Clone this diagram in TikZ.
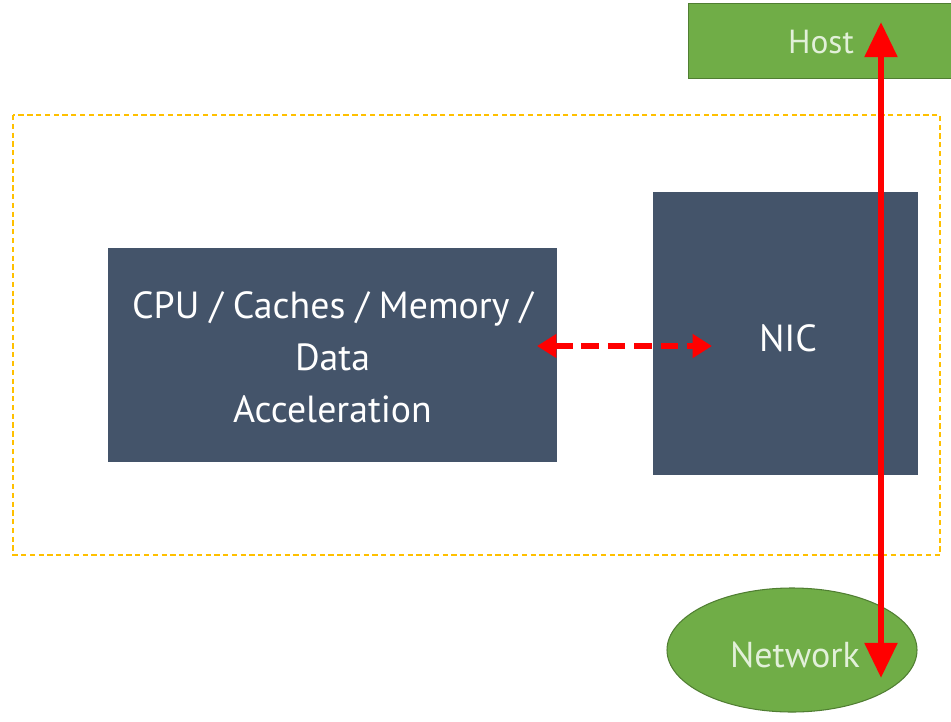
\documentclass[tikz,border=0pt]{standalone}
\usepackage{fontspec}
\setmainfont{PT Sans}
\usetikzlibrary{shapes.geometric,arrows.meta}
\definecolor{slate}{HTML}{44546A}
\definecolor{leaf}{HTML}{70AD47}
\definecolor{leafedge}{HTML}{507E32}
\definecolor{paletxt}{HTML}{E2F0D9}
\definecolor{boxedge}{HTML}{FFC000}
\tikzset{
  block/.style={fill=slate, draw=none, inner sep=0pt},
  blocktext/.style={text=white, align=center, inner sep=0pt,
    font=\fontsize{21.5}{29.5}\selectfont},
  greenbox/.style={fill=leaf, draw=leafedge, line width=0.6pt, inner sep=0pt},
  greentext/.style={text=paletxt, inner sep=0pt},
  redarrow/.style={draw=red, line width=3.8pt,
    {Triangle[length=20pt,width=18pt]}-{Triangle[length=20pt,width=18pt]}},
  reddash/.style={draw=red, line width=3.6pt, dash pattern=on 10pt off 5pt,
    {Triangle[length=11pt,width=13pt]}-{Triangle[length=11pt,width=13pt]}}
}
\begin{document}
\begin{tikzpicture}[x=0.02cm,y=-0.02cm]
\useasboundingbox (0,0) rectangle (951,721);
% dashed enclosure
\draw[boxedge, line width=0.6pt, dash pattern=on 3pt off 2pt] (13,115) rectangle (940,555);
% host and network
\node[greenbox, rectangle, minimum width=263*0.02cm, minimum height=75*0.02cm, anchor=north west] (host) at (688,3) {};
\node[greentext, font=\fontsize{19}{22}\selectfont] (hostlbl) at (821,42) {Host};
\node[greenbox, ellipse, minimum width=250*0.02cm, minimum height=124*0.02cm] (net) at (792,650) {};
\node[greentext, font=\fontsize{20.5}{24}\selectfont] (netlbl) at (795,655) {Network};
% processing blocks
\node[block, minimum width=449*0.02cm, minimum height=214*0.02cm] (cpu) at (332.5,355) {};
\node[blocktext] (cpulbl) at (332.5,357) {CPU / Caches / Memory /\\Data\\Acceleration};
\node[block, minimum width=265*0.02cm, minimum height=283*0.02cm] (nic) at (785.5,333.5) {};
\node[blocktext] (niclbl) at (788,338) {NIC};
% data paths
\coordinate (top) at (881,22);
\coordinate (bot) at (881,678);
\draw[redarrow] (bot) -- (top);
\coordinate (dl) at (537,346);
\coordinate (dr) at (712,346);
\draw[reddash] (dl) -- (dr);
\end{tikzpicture}
\end{document}
